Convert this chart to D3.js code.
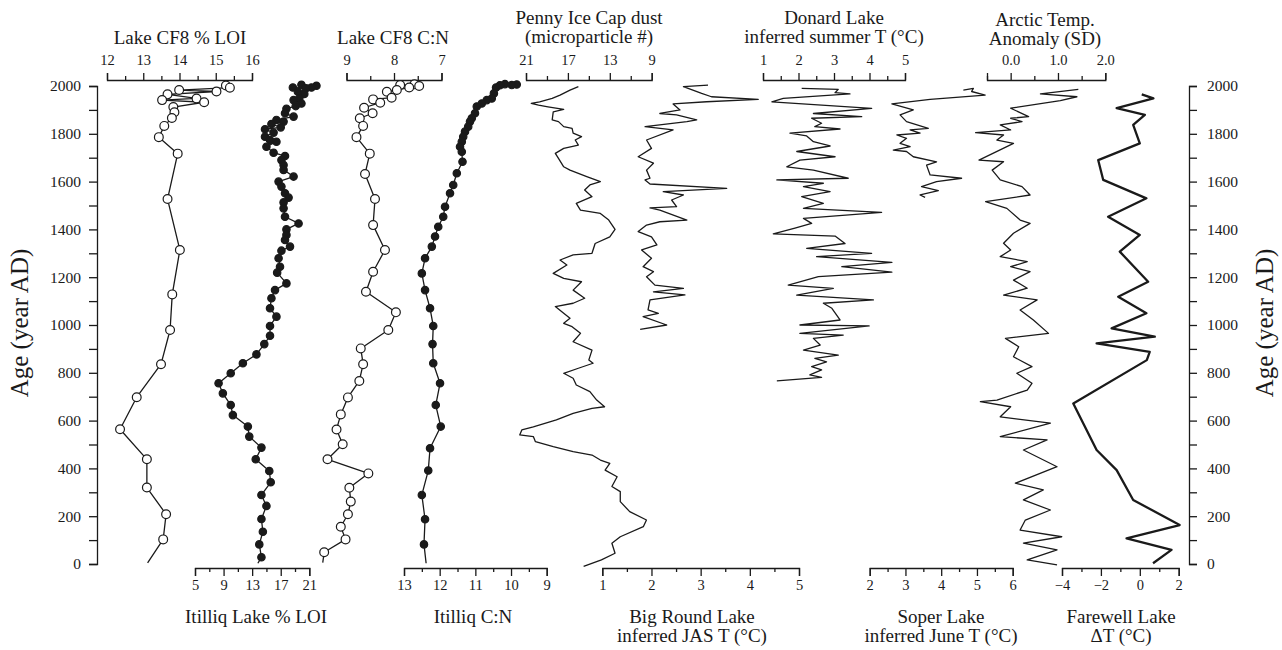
<!DOCTYPE html>
<html>
<head>
<meta charset="utf-8">
<script src="https://cdn.jsdelivr.net/npm/d3@7"></script>
<style>
body{margin:0;background:#fff}
svg{color:#1a1a1a}
text{font-family:"Liberation Serif","DejaVu Serif",serif;fill:#1a1a1a}
</style>
</head>
<body>
<svg id="chart" width="1282" height="650"></svg>
<script>
// [year AD, value]
const cf8Loi=[[2002,15.28],[1993,15.39],[1983,13.99],[1977,15.02],[1965,13.67],[1948,14.47],[1941,13.52],[1932,14.68],[1912,13.83],[1890,13.86],[1866,13.79],[1833,13.58],[1786,13.43],[1717,13.95],[1527,13.67],[1314,14.01],[1128,13.80],[979,13.74],[836,13.49],[698,12.82],[564,12.36],[438,13.10],[320,13.10],[208,13.63],[103,13.55],[5,13.12]]

const itLoi=[[2005,19.9],[2001,22.0],[1994,21.3],[1990,20.5],[1994,18.7],[1976,19.4],[1967,20.3],[1948,19.6],[1941,18.8],[1927,19.9],[1916,19.1],[1905,17.8],[1886,17.6],[1872,18.8],[1858,16.4],[1851,17.4],[1841,15.7],[1827,17.0],[1819,14.8],[1805,16.0],[1788,14.8],[1774,15.5],[1767,16.4],[1746,15.0],[1721,16.0],[1707,17.6],[1690,17.1],[1669,17.4],[1649,17.4],[1621,18.8],[1600,16.7],[1579,17.1],[1551,17.6],[1533,18.1],[1513,17.4],[1488,17.4],[1453,17.6],[1425,19.5],[1400,17.8],[1377,17.8],[1356,17.6],[1328,18.3],[1311,17.1],[1279,16.7],[1244,16.9],[1219,16.5],[1174,17.8],[1146,16.2],[1112,15.7],[1070,15.5],[1035,16.4],[996,15.5],[955,15.5],[920,14.7],[877,13.6],[840,11.7],[798,10.0],[756,8.3],[714,8.9],[665,10.0],[623,10.3],[575,12.4],[533,12.6],[487,14.3],[438,13.5],[389,15.4],[342,15.6],[289,14.3],[243,15.0],[188,14.3],[135,14.5],[82,14.0],[28,14.3],[3,13.8]]

const cf8CN=[[2004,7.87],[2007,7.57],[2000,7.47],[1994,7.68],[1983,7.94],[1976,8.15],[1951,8.05],[1944,8.44],[1930,8.29],[1909,8.63],[1886,8.45],[1865,8.72],[1833,8.65],[1786,8.79],[1717,8.51],[1632,8.61],[1527,8.40],[1418,8.44],[1314,8.19],[1223,8.44],[1139,8.59],[1053,7.96],[979,8.12],[902,8.70],[836,8.65],[766,8.73],[697,8.97],[626,9.12],[563,9.21],[501,9.08],[438,9.40],[379,8.54],[319,8.94],[261,8.91],[208,8.97],[156,9.12],[103,9.02],[49,9.47],[6,9.50]]

const itCN=[[2006,9.84],[2004,9.98],[2008,10.17],[2003,10.31],[1994,10.42],[1969,10.48],[1948,10.54],[1941,10.68],[1927,10.82],[1914,10.96],[1886,11.01],[1865,11.10],[1851,11.15],[1830,11.20],[1809,11.29],[1788,11.34],[1767,11.38],[1746,11.43],[1725,11.38],[1683,11.36],[1635,11.52],[1586,11.62],[1551,11.71],[1495,11.85],[1453,11.90],[1411,12.04],[1370,12.13],[1328,12.22],[1279,12.41],[1216,12.50],[1146,12.41],[1070,12.27],[996,12.18],[920,12.20],[840,12.18],[756,11.99],[665,12.11],[575,11.97],[484,12.27],[391,12.32],[289,12.50],[187,12.41],[82,12.44],[3,12.38]]

const dust=[[1997,16.0],[1983,16.8],[1962,17.75],[1948,18.5],[1934,19.7],[1927,20.5],[1920,19.8],[1913,18.9],[1902,17.4],[1892,18.4],[1858,18.5],[1851,17.9],[1830,17.4],[1823,16.6],[1803,16.5],[1788,15.7],[1774,16.3],[1753,16.0],[1739,17.4],[1718,18.2],[1697,17.9],[1662,17.4],[1648,16.8],[1621,15.2],[1600,13.9],[1586,14.9],[1565,15.4],[1537,14.7],[1509,16.2],[1481,15.8],[1467,13.9],[1439,13.1],[1400,12.5],[1369,13.0],[1341,14.4],[1300,14.7],[1293,16.5],[1272,17.75],[1251,17.1],[1216,18.4],[1195,17.4],[1181,15.7],[1146,16.5],[1112,15.4],[1091,16.5],[1077,18.2],[1049,17.4],[1028,16.8],[1007,17.4],[993,16.6],[965,15.8],[930,16.5],[895,14.7],[854,15.0],[840,14.6],[819,16.0],[798,17.4],[777,16.5],[749,16.2],[721,14.9],[686,14.25],[658,13.5],[651,14.7],[630,16.5],[603,18.1],[574,20.3],[561,21.4],[540,21.6],[533,20.3],[512,20.1],[491,18.4],[470,16.5],[456,14.7],[435,13.9],[421,13.0],[393,13.45],[365,12.3],[324,12.8],[303,12.0],[261,12.0],[219,11.1],[184,9.5],[156,9.8],[114,12.0],[87,12.8],[45,12.5],[17,13.8],[-10,15.5]]

const bigRound=[[2004,3.15],[1997,2.65],[1969,3.02],[1955,3.22],[1944,4.17],[1934,3.12],[1925,2.44],[1900,2.58],[1885,2.17],[1879,2.51],[1858,2.92],[1851,2.72],[1830,1.87],[1816,2.44],[1774,1.90],[1739,2.00],[1704,1.73],[1677,2.04],[1648,1.90],[1614,1.97],[1607,1.87],[1590,1.97],[1572,3.53],[1558,2.24],[1544,2.65],[1523,2.41],[1495,2.51],[1490,1.97],[1481,2.17],[1439,2.72],[1432,2.17],[1418,1.90],[1391,1.73],[1369,2.00],[1335,2.11],[1314,1.80],[1279,2.00],[1244,1.83],[1223,2.04],[1202,1.90],[1167,2.07],[1153,2.65],[1139,2.04],[1126,2.68],[1105,1.97],[1063,1.93],[1049,2.14],[1035,1.83],[1000,2.31],[982,1.77]]

const donard=[[1990,2.09],[1986,3.12],[1972,3.03],[1967,3.45],[1948,1.57],[1934,1.25],[1906,4.06],[1885,2.42],[1872,3.78],[1865,2.37],[1844,2.65],[1830,2.46],[1820,3.17],[1803,1.76],[1791,2.23],[1767,2.42],[1749,2.89],[1726,1.95],[1704,3.03],[1690,2.04],[1662,1.67],[1648,2.42],[1614,3.40],[1607,1.39],[1593,2.70],[1579,2.14],[1558,2.89],[1537,2.09],[1509,2.70],[1488,2.14],[1471,4.34],[1446,2.14],[1425,2.37],[1405,1.90],[1381,1.29],[1372,3.03],[1341,3.31],[1321,2.23],[1300,4.06],[1286,2.51],[1262,4.63],[1244,3.22],[1221,4.63],[1202,2.56],[1167,1.71],[1153,2.98],[1125,1.95],[1105,4.11],[1091,2.70],[1070,2.94],[1021,3.17],[1000,2.04],[996,3.99],[965,2.04],[958,3.26],[944,2.42],[916,2.61],[895,2.14],[874,3.12],[860,2.46],[846,2.79],[826,2.37],[812,2.65],[791,2.32],[781,2.65],[766,1.39]]

const soper=[[1983,4.62],[1990,4.90],[1977,4.85],[1962,5.23],[1944,3.69],[1925,2.62],[1900,3.22],[1879,2.85],[1851,3.03],[1823,3.64],[1816,3.13],[1803,3.41],[1795,2.76],[1781,3.03],[1760,2.85],[1746,3.13],[1732,2.66],[1726,3.03],[1704,3.22],[1683,3.87],[1669,3.59],[1628,3.69],[1614,4.57],[1600,3.87],[1579,3.45],[1562,3.92],[1544,3.41],[1534,3.55]]

const arctic=[[1986,1.43],[1967,0.63],[1955,1.40],[1939,1.05],[1907,0.00],[1872,0.38],[1865,0.00],[1851,0.24],[1837,-0.22],[1816,0.00],[1805,-0.74],[1795,-0.15],[1774,-0.29],[1760,0.06],[1690,-0.67],[1683,-0.15],[1648,-0.39],[1607,-0.22],[1579,0.24],[1544,0.41],[1516,-0.53],[1488,-0.08],[1439,0.20],[1425,0.41],[1384,0.06],[1342,-0.15],[1314,0.00],[1286,-0.22],[1265,0.35],[1244,0.00],[1223,0.41],[1188,0.06],[1154,0.35],[1125,-0.15],[1105,0.56],[1063,0.20],[1021,0.48],[965,0.80],[944,-0.11],[909,0.17],[867,0.06],[826,0.45],[798,0.13],[756,0.45],[728,0.35],[686,-0.29],[679,-0.64],[658,0.00],[616,-0.22],[589,0.84],[533,-0.22],[519,0.77],[477,0.27],[407,0.98],[338,0.10],[310,0.69],[268,0.27],[226,0.84],[184,0.31],[142,0.20],[114,1.08],[87,0.27],[59,0.98],[17,0.35],[-4,0.98]]

const farewell=[[1965,0.1],[1948,0.7],[1907,-1.19],[1879,0.26],[1837,-0.34],[1760,0.00],[1690,-2.14],[1607,-1.88],[1530,0.34],[1453,-1.63],[1377,0.00],[1307,-1.03],[1181,0.43],[1118,-1.11],[1049,0.34],[986,-1.45],[951,0.77],[923,-2.22],[888,0.51],[853,0.36],[672,-3.42],[477,-2.22],[393,-1.19],[268,-0.34],[163,2.05],[107,-0.68],[59,1.63],[3,0.68]]

// tick labels
const ageLabels=[0,200,400,600,800,1000,1200,1400,1600,1800,2000]
const cf8LoiLabels=[12,13,14,15,16]
const cf8CNLabels=[9,8,7]
const dustLabels=[21,17,13,9]
const donardLabels=[1,2,3,4,5]
const arcticLabels=[0,1,2]
const itLoiLabels=[5,9,13,17,21]
const itCNLabels=[13,12,11,10,9]
const bigRoundLabels=[1,2,3,4,5]
const soperLabels=[2,3,4,5,6]
const farewellLabels=[-4,-2,0,2]

const svg=d3.select("#chart")
const y=d3.scaleLinear().domain([0,2000]).range([564,86])
const topY=80, botY=568

function hAxis(scale,isTop,step,labels,fmt){
const d=scale.domain()
const lo=Math.min(d[0],d[1]),hi=Math.max(d[0],d[1])
const vals=d3.range(lo,hi+step/2,step)
const major=v=>labels.some(l=>Math.abs(l-v)<1e-6)
const ax=(isTop?d3.axisTop(scale):d3.axisBottom(scale))
.tickValues(vals)
.tickSizeOuter(0)
.tickSize(isTop?7:8)
.tickPadding(isTop?8:4)
.tickFormat(v=>major(v)?fmt(v):"")
const g=svg.append("g")
.attr("transform","translate(0,"+(isTop?topY:botY)+")")
.call(ax)
.attr("font-family",null)
.attr("font-size",14.5)
g.selectAll(".tick line")
.attr("y2",v=>(isTop?-1:1)*(major(v)?(isTop?7:8):4))
.attr("stroke-width",1.3)
g.select(".domain").attr("stroke-width",1.3)
}

function vAxis(xPos,left){
const ax=(left?d3.axisLeft(y):d3.axisRight(y))
.tickValues(d3.range(0,2001,100))
.tickSizeOuter(0)
.tickSize(8)
.tickPadding(left?8:10)
.tickFormat(v=>ageLabels.includes(v)?v:"")
const g=svg.append("g")
.attr("transform","translate("+xPos+",0)")
.call(ax)
.attr("font-family",null)
.attr("font-size",15.5)
g.selectAll(".tick line").attr("stroke-width",1.3)
g.select(".domain").attr("stroke-width",1.3)
}

function series(data,x,opts){
const line=d3.line().x(d=>x(d[1])).y(d=>y(d[0]))
svg.append("path")
.datum(data)
.attr("fill","none")
.attr("stroke","#1a1a1a")
.attr("stroke-width",opts.width||1.3)
.attr("stroke-linejoin","round")
.attr("d",line)
if(!opts.marker) return
const pts=data.slice(0,data.length-1)
svg.selectAll(null)
.data(pts)
.enter()
.append("circle")
.attr("cx",d=>x(d[1]))
.attr("cy",d=>y(d[0]))
.attr("r",opts.marker=="open"?4.4:3.7)
.attr("fill",opts.marker=="open"?"#fff":"#1a1a1a")
.attr("stroke","#1a1a1a")
.attr("stroke-width",1.2)
}

function title(lines,x,y0){
lines.forEach((t,i)=>{
svg.append("text")
.attr("x",x)
.attr("y",y0+i*19)
.attr("text-anchor","middle")
.attr("font-size",19)
.text(t)
})
}

const xCf8Loi=d3.scaleLinear().domain([12,16]).range([107,252])
const xItLoi=d3.scaleLinear().domain([5,21]).range([195,309.3])
const xCf8CN=d3.scaleLinear().domain([9,7]).range([346.5,441.5])
const xItCN=d3.scaleLinear().domain([13,9]).range([404,546.7])
const xDust=d3.scaleLinear().domain([21,9]).range([526,651.7])
const xBigRound=d3.scaleLinear().domain([1,5]).range([602.3,799])
const xDonard=d3.scaleLinear().domain([1,5]).range([763,905])
const xSoper=d3.scaleLinear().domain([2,6]).range([869.7,1012.7])
const xArctic=d3.scaleLinear().domain([-0.5,2]).range([987,1105.3])
const xFarewell=d3.scaleLinear().domain([-4,2]).range([1062,1178.7])

vAxis(97,true)
vAxis(1189,false)

hAxis(xCf8Loi,true,0.5,cf8LoiLabels,d3.format("d"))
hAxis(xCf8CN,true,0.5,cf8CNLabels,d3.format("d"))
hAxis(xDust,true,2,dustLabels,d3.format("d"))
hAxis(xDonard,true,0.5,donardLabels,d3.format("d"))
hAxis(xArctic,true,0.5,arcticLabels,d3.format(".1f"))
hAxis(xItLoi,false,2,itLoiLabels,d3.format("d"))
hAxis(xItCN,false,0.5,itCNLabels,d3.format("d"))
hAxis(xBigRound,false,0.5,bigRoundLabels,d3.format("d"))
hAxis(xSoper,false,0.5,soperLabels,d3.format("d"))
hAxis(xFarewell,false,1,farewellLabels,d3.format("d"))

series(dust,xDust,{})
series(bigRound,xBigRound,{})
series(donard,xDonard,{})
series(soper,xSoper,{})
series(arctic,xArctic,{})
series(farewell,xFarewell,{width:2.3})
series(cf8Loi,xCf8Loi,{marker:"open"})
series(itLoi,xItLoi,{marker:"filled"})
series(cf8CN,xCf8CN,{marker:"open"})
series(itCN,xItCN,{marker:"filled"})

title(["Lake CF8 % LOI"],180,44)
title(["Lake CF8 C:N"],393,44)
title(["Penny Ice Cap dust","(microparticle #)"],589,24)
title(["Donard Lake","inferred summer T (°C)"],834,24)
title(["Arctic Temp.","Anomaly (SD)"],1045,26)
title(["Itilliq Lake % LOI"],256,623)
title(["Itilliq C:N"],473,623)
title(["Big Round Lake","inferred JAS T (°C)"],692,623)
title(["Soper Lake","inferred June T (°C)"],941,623)
title(["Farewell Lake","ΔT (°C)"],1121,623)

svg.append("text")
.attr("transform","translate(28,323) rotate(-90)")
.attr("text-anchor","middle")
.attr("font-size",25)
.text("Age (year AD)")

svg.append("text")
.attr("transform","translate(1273,323) rotate(-90)")
.attr("text-anchor","middle")
.attr("font-size",25)
.text("Age (year AD)")
</script>
</body>
</html>
